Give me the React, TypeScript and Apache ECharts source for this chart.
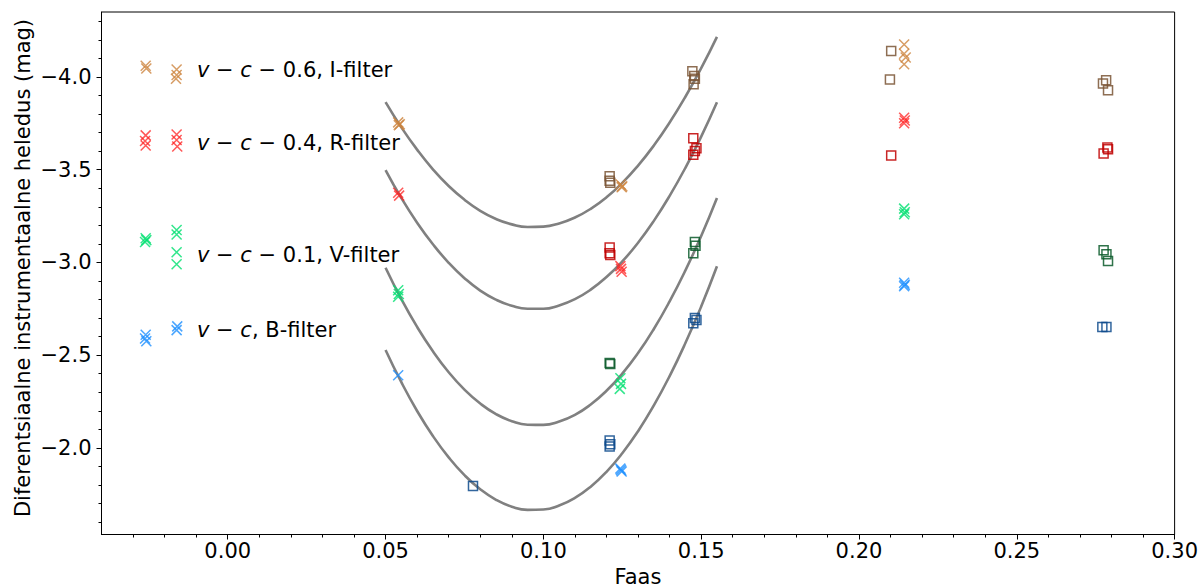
import React, { useEffect, useRef } from 'react';
import * as echarts from 'echarts';

const FONT = 'DejaVu Sans';

// Axis ticks
const xMajorTicks = [0, 0.05, 0.1, 0.15, 0.2, 0.25, 0.3];
const xMinorTicks = [-0.03, -0.02, -0.01, 0.01, 0.02, 0.03, 0.04, 0.06, 0.07, 0.08, 0.09, 0.11, 0.12, 0.13, 0.14, 0.16, 0.17, 0.18, 0.19, 0.21, 0.22, 0.23, 0.24, 0.26, 0.27, 0.28, 0.29];
const yMajorTicks = [-4.0, -3.5, -3.0, -2.5, -2.0];
const yMinorTicks = [-4.3, -4.2, -4.1, -3.9, -3.8, -3.7, -3.6, -3.4, -3.3, -3.2, -3.1, -2.9, -2.8, -2.7, -2.6, -2.4, -2.3, -2.2, -2.1, -1.9, -1.8, -1.7, -1.6];

// Fitted curves
const curveI = [[0.050,-3.864],[0.055,-3.728],[0.060,-3.608],[0.065,-3.502],[0.070,-3.412],[0.075,-3.338],[0.080,-3.278],[0.085,-3.234],[0.090,-3.205],[0.095,-3.191],[0.100,-3.193],[0.105,-3.210],[0.110,-3.242],[0.115,-3.289],[0.120,-3.351],[0.125,-3.429],[0.130,-3.522],[0.135,-3.630],[0.140,-3.754],[0.145,-3.893],[0.150,-4.047],[0.155,-4.216]];
const curveR = [[0.050,-3.498],[0.055,-3.347],[0.060,-3.214],[0.065,-3.098],[0.070,-2.998],[0.075,-2.915],[0.080,-2.848],[0.085,-2.799],[0.090,-2.766],[0.095,-2.750],[0.100,-2.750],[0.105,-2.768],[0.110,-2.802],[0.115,-2.853],[0.120,-2.921],[0.125,-3.005],[0.130,-3.106],[0.135,-3.224],[0.140,-3.359],[0.145,-3.510],[0.150,-3.678],[0.155,-3.863]];
const curveV = [[0.050,-2.971],[0.055,-2.802],[0.060,-2.652],[0.065,-2.521],[0.070,-2.408],[0.075,-2.314],[0.080,-2.239],[0.085,-2.182],[0.090,-2.144],[0.095,-2.125],[0.100,-2.124],[0.105,-2.142],[0.110,-2.178],[0.115,-2.234],[0.120,-2.308],[0.125,-2.400],[0.130,-2.511],[0.135,-2.641],[0.140,-2.790],[0.145,-2.957],[0.150,-3.142],[0.155,-3.347]];
const curveB = [[0.050,-2.528],[0.055,-2.354],[0.060,-2.199],[0.065,-2.064],[0.070,-1.949],[0.075,-1.853],[0.080,-1.777],[0.085,-1.720],[0.090,-1.683],[0.095,-1.666],[0.100,-1.668],[0.105,-1.689],[0.110,-1.730],[0.115,-1.791],[0.120,-1.871],[0.125,-1.971],[0.130,-2.090],[0.135,-2.229],[0.140,-2.387],[0.145,-2.565],[0.150,-2.762],[0.155,-2.979]];

// Measurements: crosses (one instrument) and squares (other)
const iCross = [[-0.026,-4.06],[-0.0258,-4.045],[-0.0162,-4.04],[-0.0162,-4.01],[-0.0164,-3.99],[0.054,-3.755],[0.0545,-3.745],[0.0542,-3.74],[0.1245,-3.42],[0.1248,-3.405],[0.125,-3.41],[0.2143,-4.175],[0.2143,-4.125],[0.2148,-4.105],[0.2143,-4.068]];
const iSquare = [[0.121,-3.465],[0.121,-3.44],[0.1212,-3.43],[0.1472,-4.03],[0.1478,-4.005],[0.148,-3.99],[0.1476,-3.96],[0.2102,-4.14],[0.2098,-3.986],[0.2773,-3.964],[0.2783,-3.982],[0.2789,-3.928]];
const rCross = [[-0.026,-3.685],[-0.0262,-3.655],[-0.026,-3.63],[-0.0162,-3.69],[-0.0162,-3.66],[-0.016,-3.625],[0.054,-3.375],[0.0543,-3.36],[0.1244,-2.98],[0.1246,-2.965],[0.1248,-2.95],[0.2143,-3.78],[0.2145,-3.765],[0.2143,-3.75]];
const rSquare = [[0.121,-3.08],[0.121,-3.05],[0.1212,-3.04],[0.1475,-3.67],[0.1485,-3.615],[0.148,-3.60],[0.1475,-3.58],[0.2102,-3.576],[0.2775,-3.587],[0.2787,-3.619],[0.2789,-3.61]];
const vCross = [[-0.026,-3.13],[-0.0262,-3.11],[-0.0258,-3.12],[-0.0162,-3.175],[-0.0162,-3.15],[-0.0162,-3.055],[-0.0162,-2.99],[0.054,-2.85],[0.0542,-2.83],[0.054,-2.815],[0.1244,-2.375],[0.1246,-2.345],[0.1242,-2.318],[0.2143,-3.29],[0.2145,-3.27],[0.2143,-3.26]];
const vSquare = [[0.121,-2.458],[0.1212,-2.452],[0.148,-3.11],[0.1482,-3.09],[0.1475,-3.05],[0.2775,-3.066],[0.2784,-3.044],[0.2789,-3.008]];
const bCross = [[-0.026,-2.61],[-0.0262,-2.59],[-0.0258,-2.575],[-0.016,-2.655],[-0.0162,-2.635],[0.054,-2.392],[0.1244,-1.888],[0.1246,-1.88],[0.1248,-1.873],[0.2143,-2.89],[0.2145,-2.88],[0.2143,-2.872]];
const bSquare = [[0.0777,-1.795],[0.121,-2.04],[0.1212,-2.02],[0.121,-2.008],[0.148,-2.70],[0.1485,-2.69],[0.1475,-2.672],[0.2771,-2.652],[0.2784,-2.652]];

const labels = [
  { text: '{i|v} − {i|c} − 0.6, I-filter', y: 70 },
  { text: '{i|v} − {i|c} − 0.4, R-filter', y: 142.5 },
  { text: '{i|v} − {i|c} − 0.1, V-filter', y: 254.5 },
  { text: '{i|v} − {i|c}, B-filter', y: 329.5 },
];

const CROSS = 'path://M0,0L10,10M10,0L0,10';

function crossSeries(data: number[][], color: string, opacity = 0.8) {
  return {
    type: 'scatter', data, symbol: CROSS, symbolSize: 10, silent: true, z: 3,
    itemStyle: { color: 'rgba(0,0,0,0)', borderColor: color, borderWidth: 1.5, opacity },
    emphasis: { disabled: true },
  };
}
function squareSeries(data: number[][], color: string, opacity = 0.85) {
  return {
    type: 'scatter', data, symbol: 'rect', symbolSize: 9, silent: true, z: 3,
    itemStyle: { color: 'rgba(0,0,0,0)', borderColor: color, borderWidth: 1.5, opacity },
    emphasis: { disabled: true },
  };
}
function curveSeries(data: number[][]) {
  return {
    type: 'line', data, smooth: true, showSymbol: false, silent: true, z: 2,
    lineStyle: { color: '#808080', width: 2.6 },
    emphasis: { disabled: true },
  };
}

export default function App() {
  const ref = useRef<HTMLDivElement>(null);
  useEffect(() => {
    if (!ref.current) return;
    const chart = echarts.init(ref.current, undefined, { renderer: 'svg' });
    const axisText = { fontSize: 21, fontFamily: FONT, color: '#000' };
    chart.setOption({
      animation: false,
      backgroundColor: '#ffffff',
      textStyle: { fontFamily: FONT },
      grid: { left: 101.5, right: 25.5, top: 12, bottom: 53.5, show: true, borderColor: '#000', borderWidth: 1, backgroundColor: 'transparent' },
      xAxis: [
        {
          type: 'value', min: -0.04, max: 0.30, position: 'bottom',
          axisLine: { show: true, onZero: false, lineStyle: { color: '#000', width: 1 } },
          axisTick: { show: true, length: 5, customValues: xMajorTicks, lineStyle: { color: '#000', width: 1 } },
          axisLabel: { ...axisText, customValues: xMajorTicks, margin: 6, formatter: (v: number) => v.toFixed(2) },
          splitLine: { show: false },
        },
        {
          type: 'value', min: -0.04, max: 0.30, position: 'bottom',
          axisLine: { show: false, onZero: false },
          axisTick: { show: true, length: 3, customValues: xMinorTicks, lineStyle: { color: '#000', width: 1 } },
          axisLabel: { show: false },
          splitLine: { show: false },
        },
      ],
      yAxis: [
        {
          type: 'value', min: -4.35, max: -1.533, inverse: true, position: 'left',
          axisLine: { show: true, onZero: false, lineStyle: { color: '#000', width: 1 } },
          axisTick: { show: true, length: 5, customValues: yMajorTicks, lineStyle: { color: '#000', width: 1 } },
          axisLabel: { ...axisText, customValues: yMajorTicks, margin: 10, formatter: (v: number) => v.toFixed(1).replace('-', '\u2212') },
          splitLine: { show: false },
        },
        {
          type: 'value', min: -4.35, max: -1.533, inverse: true, position: 'left',
          axisLine: { show: false, onZero: false },
          axisTick: { show: true, length: 3, customValues: yMinorTicks, lineStyle: { color: '#000', width: 1 } },
          axisLabel: { show: false },
          splitLine: { show: false },
        },
      ],
      series: [
        curveSeries(curveI), curveSeries(curveR), curveSeries(curveV), curveSeries(curveB),
        crossSeries(iCross, '#cd853f'),
        squareSeries(iSquare, '#7a5535'),
        crossSeries(rCross, '#ff2020', 0.75),
        squareSeries(rSquare, '#c00000'),
        crossSeries(vCross, '#00e070'),
        squareSeries(vSquare, '#0a5a2a'),
        crossSeries(bCross, '#1e90ff'),
        squareSeries(bSquare, '#0d4a8c'),
      ],
      graphic: [
        ...labels.map((l) => ({
          type: 'text', x: 197, y: l.y, silent: true,
          style: {
            text: l.text, fontSize: 21, fontFamily: FONT, fill: '#000', verticalAlign: 'middle', align: 'left',
            rich: { i: { fontSize: 21, fontFamily: FONT, fontStyle: 'italic', fill: '#000' } },
          },
        })),
        {
          type: 'text', x: 23, y: 268, rotation: Math.PI / 2, silent: true,
          style: { text: 'Diferentsiaalne instrumentaalne heledus (mag)', fontSize: 21, fontFamily: FONT, fill: '#000', align: 'center', verticalAlign: 'middle' },
        },
        {
          type: 'text', x: 638, y: 577, silent: true,
          style: { text: 'Faas', fontSize: 21, fontFamily: FONT, fill: '#000', align: 'center', verticalAlign: 'middle' },
        },
      ],
    });
    return () => chart.dispose();
  }, []);
  return <div ref={ref} style={{ position: 'absolute', left: 0, top: 0, width: 1201, height: 588 }} />;
}
